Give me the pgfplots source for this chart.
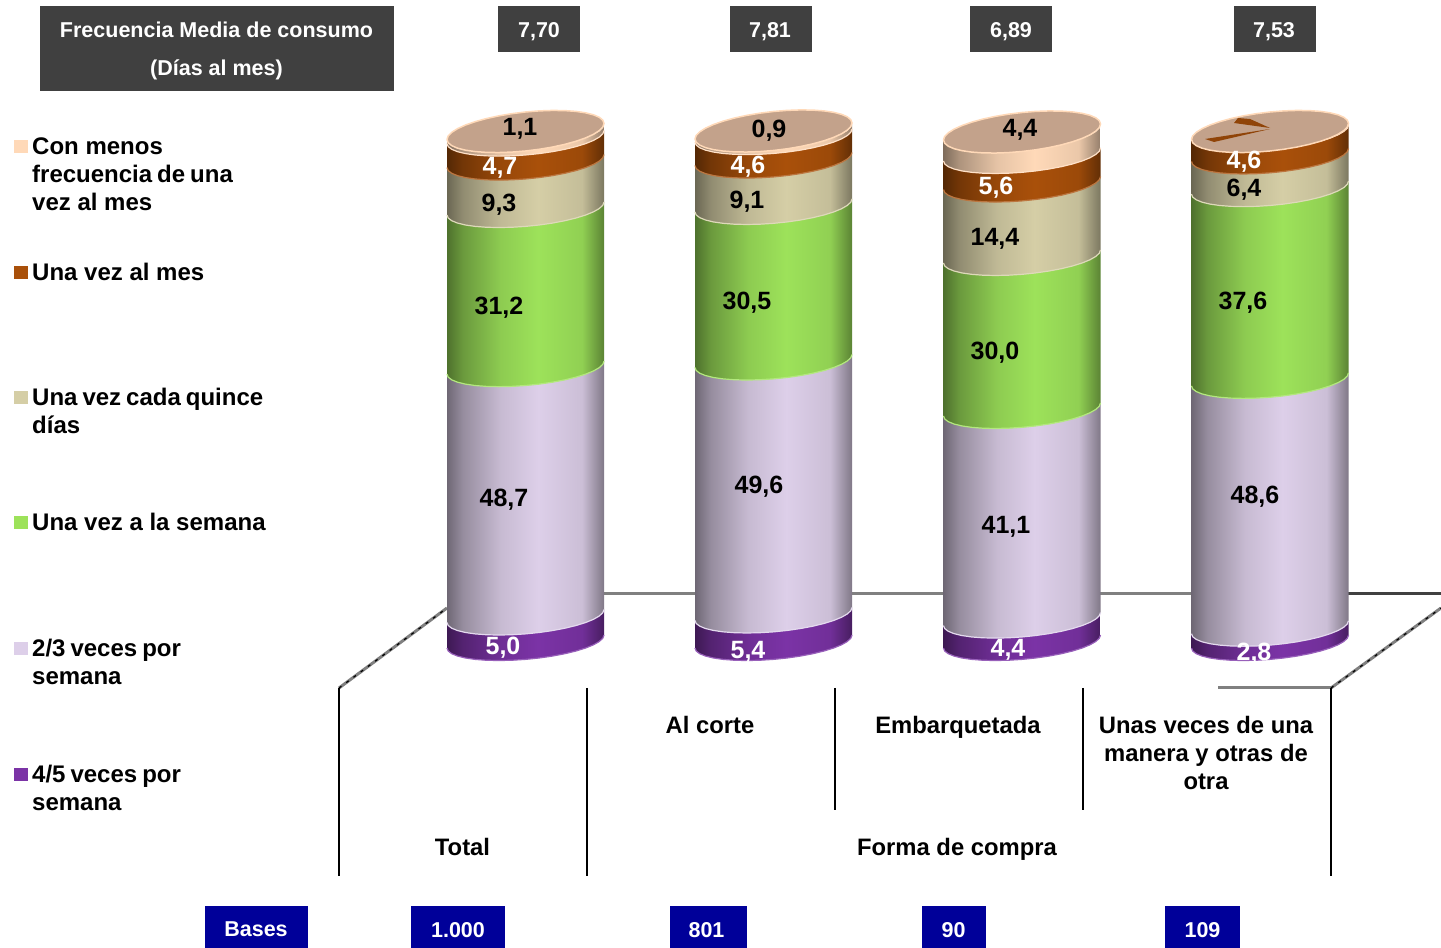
\documentclass[border=0pt]{standalone}
\usepackage{pgfplots}
\usepackage{pgfplotstable}
\usepackage{fontspec}
\setmainfont{Liberation Sans}
\pgfplotsset{compat=1.18}

% Segment colours, bottom of the stack first
\definecolor{segA}{HTML}{7B33A6}
\definecolor{segB}{HTML}{DDCFE9}
\definecolor{segC}{HTML}{9DE25A}
\definecolor{segD}{HTML}{D5CEA6}
\definecolor{segE}{HTML}{A9500A}
\definecolor{segF}{HTML}{FFD9B8}
\definecolor{capface}{HTML}{C3A28B}
\definecolor{headgray}{HTML}{404040}
\definecolor{basesblue}{HTML}{000099}
\definecolor{floorgray}{HTML}{808080}

% Horizontal light falloff of a cylinder body
\newcommand\declarecyl[1]{%
  \pgfdeclarehorizontalshading{cyl#1}{100bp}{%
    color(0bp)=(#1!50!black);
    color(25bp)=(#1!50!black);
    color(30bp)=(#1!68!black);
    color(42bp)=(#1!90!black);
    color(54bp)=(#1);
    color(68bp)=(#1!92!black);
    color(75bp)=(#1!58!black);
    color(100bp)=(#1!58!black)}}
\declarecyl{segA}\declarecyl{segB}\declarecyl{segC}
\declarecyl{segD}\declarecyl{segE}\declarecyl{segF}

% Percentages per purchase mode, bottom segment first
\pgfplotstableread{
serie total corte embarquetada unas
segA  5.0   5.4   4.4          2.8
segB  48.7  49.6  41.1         48.6
segC  31.2  30.5  30.0         37.6
segD  9.3   9.1   14.4         6.4
segE  4.7   4.6   5.6          4.6
segF  1.1   0.9   4.4          0.0
}\shares

\def\pxperunit{5.10}
\def\radius{78.5}

% Front arc of a ring at level #2 of the cylinder centred on #1; result appended to \arcpts
\newcommand\addarc[5]{% centre, level, from, step-second, to
  \foreach \s in {#3,#4,...,#5}{%
    \pgfmathsetmacro\px{#1-\radius*cos(\s)}%
    \pgfmathsetmacro\py{#2-(\ringA*sin(\s)+\ringT*cos(\s))/\pxperunit}%
    \xdef\arcpts{\arcpts (\px,\py)}%
  }}

% One whole cylinder: centre x and table column
\newcommand\cylinder[2]{%
  \def\cum{0}%
  \def\ringA{17.9}\def\ringT{6.5}%
  \pgfplotsforeachungrouped \r in {0,...,5}{%
    \pgfplotstablegetelem{\r}{#2}\of\shares
    \let\val\pgfplotsretval
    \pgfplotstablegetelem{\r}{serie}\of\shares
    \let\segname\pgfplotsretval
    \pgfmathsetmacro\top{\cum+\val}%
    \gdef\arcpts{}%
    \addarc{#1}{\cum}{0}{10}{180}%
    \let\rimpts\arcpts
    \addarc{#1}{\top}{180}{170}{0}%
    \edef\doplot{\noexpand\addplot[forget plot,mark=none,draw=none,shade,shading=cyl\segname]
      coordinates {\arcpts};
      \noexpand\addplot[forget plot,mark=none,line width=1.2pt,color=\segname!78!white]
      coordinates {\rimpts};}%
    \doplot
    \let\cum\top
  }%
  % Flat end cap on the top level
  \def\ringA{19.5}\def\ringT{8}%
  \gdef\arcpts{}%
  \addarc{#1}{\cum}{0}{10}{360}%
  \edef\doplot{\noexpand\addplot[forget plot,mark=none,fill=capface,draw=segF,line width=1.5pt]
    coordinates {\arcpts};}%
  \doplot
}

\begin{document}
\begin{tikzpicture}
\useasboundingbox (0,0) rectangle (1441pt,948pt);

% Floor of the chart, behind the cylinders
\begin{scope}[x=1pt,y=-1pt,yshift=948pt]
  \draw[floorgray,line width=3pt] (600,594) -- (1195,594);
  \draw[headgray,line width=3pt] (1345,594) -- (1441,594);
  \draw[floorgray,line width=3pt] (1218,688) -- (1331,688);
  \draw[floorgray,line width=3pt] (339,688) -- (447,608);
  \draw[black,line width=1.2pt,dash pattern=on 3pt off 6pt] (339,688) -- (447,608);
  \draw[floorgray,line width=3pt] (1331,688) -- (1441,608);
  \draw[black,line width=1.2pt,dash pattern=on 3pt off 6pt] (1331,688) -- (1441,608);
  \draw[black,line width=2pt] (339,688) -- (339,876);
  \draw[black,line width=2pt] (587,688) -- (587,876);
  \draw[black,line width=2pt] (835,688) -- (835,810);
  \draw[black,line width=2pt] (1083,688) -- (1083,810);
  \draw[black,line width=2pt] (1331,688) -- (1331,876);
\end{scope}

\begin{axis}[
  scale only axis, width=1441pt, height=948pt,
  xmin=0, xmax=1441, ymin=-60.098, ymax=125.784,
  hide axis, clip=false]
  \cylinder{525.5}{total}
  \cylinder{773.5}{corte}
  \cylinder{1022}{embarquetada}
  \cylinder{1270}{unas}
\end{axis}

\begin{scope}[x=1pt,y=-1pt,yshift=948pt]
  % Marks left on the top face of the last cylinder by its thin upper slice
  \fill[segE!85!black] (1238,118) -- (1250,119) -- (1270,128) -- (1234,123) -- cycle;
  \fill[segE!85!black] (1270,129) -- (1205,139) -- (1214,142) -- cycle;

  % Segment values
  \tikzset{lab/.style={inner sep=0pt,anchor=center,text depth=0pt},
           val/.style={lab,font=\fontsize{25}{25}\bfseries,text height=18pt},
           wval/.style={val,text=white}}
  \node[val]  at (520,127) {1,1};
  \node[wval] at (500,166) {4,7};
  \node[val]  at (499,203) {9,3};
  \node[val]  at (499,306) {31,2};
  \node[val]  at (504,498) {48,7};
  \node[wval] at (503,646) {5,0};
  \node[val]  at (769,129) {0,9};
  \node[wval] at (748,165) {4,6};
  \node[val]  at (747,200) {9,1};
  \node[val]  at (747,301) {30,5};
  \node[val]  at (759,485) {49,6};
  \node[wval] at (748,650) {5,4};
  \node[val]  at (1020,128) {4,4};
  \node[wval] at (996,186) {5,6};
  \node[val]  at (995,237) {14,4};
  \node[val]  at (995,351) {30,0};
  \node[val]  at (1006,525) {41,1};
  \node[wval] at (1008,648) {4,4};
  \node[wval] at (1244,160) {4,6};
  \node[val]  at (1244,188) {6,4};
  \node[val]  at (1243,301) {37,6};
  \node[val]  at (1255,495) {48,6};
  \node[wval] at (1254,652) {2,8};

  % Header boxes
  \tikzset{hd/.style={lab,font=\fontsize{21.5}{21.5}\bfseries,text=white,text height=15.5pt}}
  \fill[headgray] (40,6) rectangle (394,91);
  \node[hd] at (216.5,30) {Frecuencia Media de consumo};
  \node[hd] at (216.5,68) {(Días al mes)};
  \fill[headgray] (498,6) rectangle (580,52);
  \node[hd] at (539,30) {7,70};
  \fill[headgray] (730,6) rectangle (812,52);
  \node[hd] at (770,30) {7,81};
  \fill[headgray] (970,6) rectangle (1052,52);
  \node[hd] at (1011,30) {6,89};
  \fill[headgray] (1234,6) rectangle (1316,52);
  \node[hd] at (1274,30) {7,53};

  % Base sizes
  \fill[basesblue] (205,906) rectangle (308,948);
  \node[hd] at (256,929) {Bases};
  \fill[basesblue] (411,906) rectangle (505,948);
  \node[hd] at (458,930) {1.000};
  \fill[basesblue] (670,906) rectangle (747,948);
  \node[hd] at (706.5,930) {801};
  \fill[basesblue] (922,906) rectangle (986,948);
  \node[hd] at (953.5,930) {90};
  \fill[basesblue] (1165,906) rectangle (1240,948);
  \node[hd] at (1202.5,930) {109};

  % Column headings
  \tikzset{cat/.style={lab,font=\fontsize{23.8}{24}\bfseries,text height=17.2pt}}
  \node[cat] at (710,725) {Al corte};
  \node[cat] at (958,725) {Embarquetada};
  \node[cat] at (1206,725) {Unas veces de una};
  \node[cat] at (1206,753) {manera y otras de};
  \node[cat] at (1206,781) {otra};
  \node[cat] at (462.5,847) {Total};
  \node[cat] at (957,847) {Forma de compra};

  % Key
  \tikzset{key/.style={lab,font=\fontsize{24}{24}\bfseries,anchor=west,text height=17.2pt}}
  \newcommand\ts{\hskip5pt\relax}
  \fill[segF] (14,140) rectangle (28,153);
  \node[key] at (32,146) {Con menos};
  \node[key] at (32,174) {frecuencia\ts de\ts una};
  \node[key] at (32,202) {vez al mes};
  \fill[segE] (14,266) rectangle (28,279);
  \node[key] at (32,272) {Una vez al mes};
  \fill[segD] (14,391) rectangle (28,404);
  \node[key] at (32,397) {Una\ts vez\ts cada\ts quince};
  \node[key] at (32,425) {días};
  \fill[segC] (14,516) rectangle (28,529);
  \node[key] at (32,522) {Una vez a la semana};
  \fill[segB] (14,642) rectangle (28,655);
  \node[key] at (32,648) {2/3\ts veces\ts por};
  \node[key] at (32,676) {semana};
  \fill[segA] (14,768) rectangle (28,781);
  \node[key] at (32,774) {4/5\ts veces\ts por};
  \node[key] at (32,802) {semana};
\end{scope}
\end{tikzpicture}
\end{document}
